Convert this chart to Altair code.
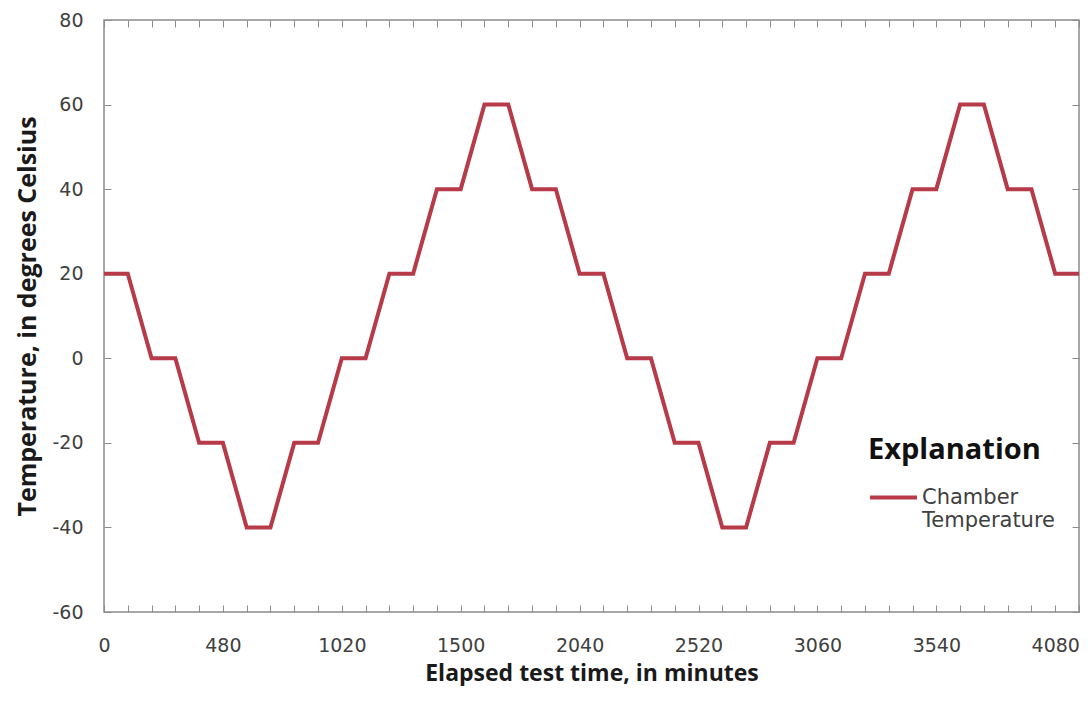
import altair as alt
import pandas as pd

# ---- data ----
elapsed_min = [0, 72, 204, 276, 408, 480, 612, 684, 816, 888,
               1020, 1092, 1224, 1296, 1428, 1500, 1632, 1704, 1836, 1908,
               2040, 2112, 2244, 2316, 2448, 2520, 2652, 2724, 2856, 2928,
               3060, 3132, 3264, 3336, 3468, 3540, 3672, 3744, 3876, 3948,
               4080, 4152]
temperature_c = [20, 20, 0, 0, -20, -20, -40, -40, -20, -20,
                 0, 0, 20, 20, 40, 40, 60, 60, 40, 40,
                 20, 20, 0, 0, -20, -20, -40, -40, -20, -20,
                 0, 0, 20, 20, 40, 40, 60, 60, 40, 40,
                 20, 20]
series_name = "Chamber Temperature"
x_label_values = [0, 480, 1020, 1500, 2040, 2520, 3060, 3540, 4080]
y_tick_values = [-60, -40, -20, 0, 20, 40, 60, 80]

df = pd.DataFrame({"time": elapsed_min, "temp": temperature_c,
                   "series": [series_name] * len(elapsed_min)})

W, H = 975, 592
LINE = "#B73A48"
FRAME = "#8C8C8C"
LABEL = "#404040"

xs = alt.Scale(type="point", padding=0)
ys = alt.Scale(domain=[-60, 80], nice=False, zero=False)

label_font = "DejaVu Sans"
title_font = "Open Sans"

main = alt.Chart(df).mark_line(strokeWidth=4).encode(
    x=alt.X("time:O", sort=None, scale=xs,
            axis=alt.Axis(values=x_label_values, ticks=False, tickSize=0, domain=False,
                          grid=False, labelAngle=0, labelPadding=24, labelFont=label_font,
                          labelFontSize=19, labelColor=LABEL,
                          title="Elapsed test time, in minutes", titleFont=title_font,
                          titleFontSize=23, titleFontWeight="bold", titleColor="#1a1a1a",
                          titlePadding=7)),
    y=alt.Y("temp:Q", scale=ys,
            axis=alt.Axis(values=y_tick_values, ticks=False, tickSize=0, domain=False,
                          grid=False, labelPadding=21, labelFont=label_font,
                          labelFontSize=19, labelColor=LABEL,
                          labelExpr="toString(datum.value)",
                          title="Temperature, in degrees Celsius",
                          titleFont=title_font, titleFontSize=25, titleFontWeight="bold",
                          titleColor="#1a1a1a", titlePadding=11)),
    color=alt.Color("series:N", scale=alt.Scale(range=[LINE]),
                    legend=alt.Legend(title="Explanation", orient="none",
                                      legendX=764, legendY=416,
                                      titleFont=title_font, titleFontSize=29,
                                      titleFontWeight="bold", titleColor="#111111",
                                      titlePadding=7,
                                      symbolType="stroke", symbolSize=2209,
                                      symbolStrokeWidth=4, symbolStrokeColor=LINE,
                                      labelFont=label_font, labelFontSize=21,
                                      labelColor=LABEL, labelOffset=3,
                                      labelExpr="split(datum.label, ' ')",
                                      labelLimit=300)),
)

ticks_a = alt.Chart(df).mark_line(strokeOpacity=0).encode(
    x=alt.X("time:O", sort=None, scale=xs,
            axis=alt.Axis(orient="top", offset=-H, labels=False, domain=False, grid=False,
                          tickSize=7, tickColor=FRAME, title=None, minExtent=0)),
    y=alt.Y("temp:Q", scale=ys,
            axis=alt.Axis(orient="right", offset=-W, values=y_tick_values, labels=False,
                          domain=False, grid=False, tickSize=7, tickColor=FRAME,
                          title=None, minExtent=0)),
)

ticks_b = alt.Chart(df).mark_line(strokeOpacity=0).encode(
    x=alt.X("time:O", sort=None, scale=xs,
            axis=alt.Axis(orient="bottom", offset=-H, labels=False, domain=False,
                          grid=False, tickSize=7, tickColor=FRAME, title=None,
                          minExtent=0)),
    y=alt.Y("temp:Q", scale=ys,
            axis=alt.Axis(orient="left", offset=-W, values=y_tick_values, labels=False,
                          domain=False, grid=False, tickSize=7, tickColor=FRAME,
                          title=None, minExtent=0)),
)

chart = alt.layer(main, ticks_a, ticks_b).resolve_axis(
    x="independent", y="independent"
).properties(
    width=W, height=H,
    autosize=alt.AutoSizeParams(type="none"),
    padding={"left": 96, "top": 12, "right": 1, "bottom": 74},
    background="white",
).configure_view(stroke=FRAME, strokeWidth=1.5)

chart.save("out.html", embed_options={"renderer": "svg", "actions": False})
